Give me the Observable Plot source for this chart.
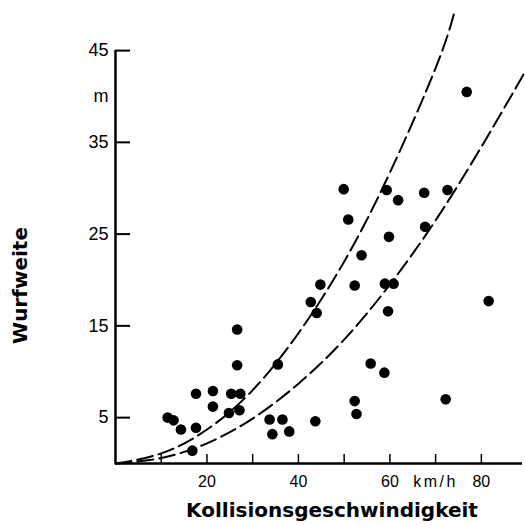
<!DOCTYPE html>
<html>
<head>
<meta charset="utf-8">
<script src="https://cdn.jsdelivr.net/npm/d3@7"></script>
<script src="https://cdn.jsdelivr.net/npm/@observablehq/plot@0.6"></script>
<style>
  html, body { margin: 0; padding: 0; background: #fff; }
  #chart svg { display: block; }
</style>
</head>
<body>
<div id="chart"></div>
<script>
// Collision speed (km/h) and throw distance (m)
const speed = [11.4, 12.7, 14.3, 16.8, 17.6, 17.6, 21.3, 21.3, 25.3, 27.3, 24.8, 27.1, 26.6, 26.6,
  33.7, 36.5, 34.3, 38.0, 43.7, 35.5, 42.7, 44.0, 44.8, 49.9, 50.9, 52.3, 53.8, 52.3, 52.7,
  55.8, 58.8, 58.9, 60.8, 59.6, 59.3, 59.8, 61.8, 67.5, 67.7, 72.6, 72.2, 76.8, 81.6];
const distance = [5.0, 4.7, 3.7, 1.4, 3.9, 7.6, 7.9, 6.2, 7.6, 7.6, 5.5, 5.8, 10.7, 14.6,
  4.8, 4.8, 3.2, 3.5, 4.6, 10.8, 17.6, 16.4, 19.5, 29.9, 26.6, 19.4, 22.7, 6.8, 5.4,
  10.9, 9.9, 19.6, 19.6, 16.6, 29.8, 24.7, 28.7, 29.5, 25.8, 29.8, 7.0, 40.5, 17.7];

// Dashed envelope curves
const upperX = [0, 10, 20, 30, 40, 50, 60, 70, 74];
const upperY = [0, 1.1, 3.7, 8.0, 14.2, 22.0, 31.7, 43.1, 49.0];
const lowerX = [0, 10, 20, 30, 40, 50, 60, 70, 80, 89.8];
const lowerY = [0, 0.6, 2.2, 4.9, 8.7, 13.5, 19.5, 26.5, 34.5, 42.9];

// Axis ticks and labels
const yTicks = [5, 15, 25, 35, 45];
const yTickLabels = ["5", "15", "25", "35", "45"];
const yUnit = {value: 40, label: "m"};
const xTicks = [10, 20, 30, 40, 50, 60, 70, 80, 90];
const xTickLabelValues = [20, 40, 60, 70, 80];
const xTickLabels = ["20", "40", "60", "km/h", "80"];
const xTitle = "Kollisionsgeschwindigkeit";
const yTitle = "Wurfweite";
const yTitleAt = 19.4; // vertical centre of the y title, in metres

const points = speed.map((s, i) => ({x: s, y: distance[i]}));
const upper = upperX.map((x, i) => ({x, y: upperY[i]}));
const lower = lowerX.map((x, i) => ({x, y: lowerY[i]}));
const yLab = yTicks.map((v, i) => ({v, t: yTickLabels[i]})).concat([{v: yUnit.value, t: yUnit.label}]);
const xLab = xTickLabelValues.map((v, i) => ({v, t: xTickLabels[i]}));

const tickFont = "'Liberation Sans', Arial, sans-serif";
const titleFont = "'DejaVu Sans', sans-serif";

const chart = Plot.plot({
  width: 525,
  height: 526,
  marginLeft: 115,
  marginRight: 3,
  marginTop: 0,
  marginBottom: 63,
  x: {domain: [0, 89], axis: null},
  y: {domain: [0, 50.46], axis: null},
  style: {background: "#fff", color: "#000"},
  marks: [
    // dashed curves
    Plot.line(upper, {x: "x", y: "y", curve: "natural", stroke: "#000", strokeWidth: 2, strokeDasharray: "16,6"}),
    Plot.line(lower, {x: "x", y: "y", curve: "natural", stroke: "#000", strokeWidth: 2, strokeDasharray: "16,6"}),
    // axes lines
    Plot.ruleX([0], {y1: 0, y2: 45, stroke: "#000", strokeWidth: 2.5}),
    Plot.ruleY([0], {x1: 0, x2: 89, stroke: "#000", strokeWidth: 2.5}),
    // inward ticks
    Plot.ruleY(yTicks, {x1: 0, x2: 0, insetRight: -15, stroke: "#000", strokeWidth: 2}),
    Plot.ruleX(xTicks, {y1: 0, y2: 0, insetBottom: 9, stroke: "#000", strokeWidth: 1.5}),
    // tick labels
    Plot.text(yLab, {x: 0, y: "v", text: "t", textAnchor: "end", dx: -7, fontSize: 18, fontFamily: tickFont, fill: "#000"}),
    Plot.text(xLab, {x: "v", y: 0, text: "t", dy: 18, fontSize: 16, fontFamily: tickFont, fill: "#000"}),
    // axis titles
    Plot.text([xTitle], {frameAnchor: "bottom", dx: 13, dy: 53, fontSize: 20, fontWeight: "bold", fontFamily: titleFont, fill: "#000"}),
    Plot.text([yTitle], {x: 0, y: () => yTitleAt, dx: -95, rotate: -90, fontSize: 20, fontWeight: "bold", fontFamily: titleFont, fill: "#000"}),
    // data points
    Plot.dot(points, {x: "x", y: "y", r: 5.3, fill: "#000", stroke: "none"})
  ]
});
// widen the unit label like the original's spaced lettering
chart.querySelectorAll("text").forEach(t => {
  if (t.textContent === "km/h") t.setAttribute("letter-spacing", "2.5");
});
document.getElementById("chart").append(chart);
</script>
</body>
</html>
